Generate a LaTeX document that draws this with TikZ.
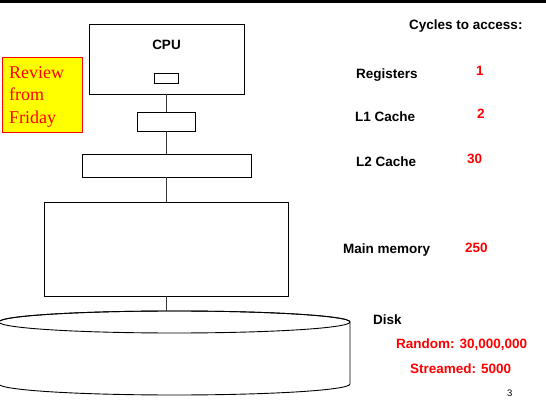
\documentclass[tikz,border=0pt]{standalone}
\usepackage{fontspec}
\setmainfont{Liberation Sans}
\newfontfamily\revfont{Liberation Serif}
\definecolor{hired}{RGB}{255,0,0}
\definecolor{hiyellow}{RGB}{255,255,0}
\begin{document}
\begin{tikzpicture}[x=1pt,y=-1pt,
  box/.style={draw=black, line width=0.9pt, fill=white, inner sep=0, anchor=center},
  conn/.style={draw=black!80, line width=0.9pt},
  lbl/.style={anchor=base west, inner sep=0, font=\fontsize{13.5}{16}\selectfont\bfseries},
  val/.style={lbl, text=hired}]
\useasboundingbox (0,0) rectangle (546,419);
\fill[black] (0,0) rectangle (546,3);
% memory hierarchy boxes
\node[box, minimum width=155, minimum height=70] (cpu) at (166.5,59) {};
\node[anchor=center, inner sep=0, font=\fontsize{13.5}{16}\selectfont\bfseries] (cputxt) at (166.5,45) {CPU};
\node[box, minimum width=24, minimum height=10] (reg) at (166.5,78) {};
\node[box, minimum width=58, minimum height=19] (l1) at (166.5,121.5) {};
\node[box, minimum width=169, minimum height=23] (l2) at (166.5,165.5) {};
\node[box, minimum width=244, minimum height=94] (mem) at (166.5,249) {};
% disk
\draw[line width=0.9pt, fill=white] (-1,384) -- (-1,322) arc[start angle=180, end angle=360, x radius=175.5, y radius=11] -- (350,384) arc[start angle=0, end angle=180, x radius=175.5, y radius=11];
\draw[line width=0.9pt] (174.5,322) ellipse[x radius=175.5, y radius=11];
\coordinate (disktop) at (166.5,311);
% connectors
\draw[conn] (cpu.south) -- (l1.north);
\draw[conn] (l1.south) -- (l2.north);
\draw[conn] (l2.south) -- (mem.north);
\draw[conn] (mem.south) -- (disktop);
% review note
\node[draw=hired, fill=hiyellow, line width=1pt, minimum width=80, minimum height=75, anchor=north west, inner sep=0] (review) at (2,57) {};
\node[anchor=north west, align=left, inner sep=0, text=hired, font=\revfont\fontsize{18}{22.5}\selectfont] (reviewtxt) at (9,66) {Review\\from\\Friday};
% labels
\node[lbl] (cycles) at (409,30) {Cycles to access:};
\node[lbl] (regl) at (356,79) {Registers};
\node[val] (regv) at (476,76) {1};
\node[lbl] (l1l) at (355,121.3) {L1 Cache};
\node[val] (l1v) at (477,118.3) {2};
\node[lbl] (l2l) at (356,166.7) {L2 Cache};
\node[val] (l2v) at (467,164) {30};
\node[lbl] (meml) at (343,253.3) {Main memory};
\node[val] (memv) at (465,252.7) {250};
\node[lbl] (diskl) at (373,324.3) {Disk};
\node[val] (randv) at (396,348.7) {Random: 30,000,000};
\node[val] (strv) at (410,373.7) {Streamed: 5000};
\node[anchor=base west, inner sep=0, font=\fontsize{9.5}{11}\selectfont] (pagenum) at (507,396.7) {3};
\end{tikzpicture}
\end{document}
